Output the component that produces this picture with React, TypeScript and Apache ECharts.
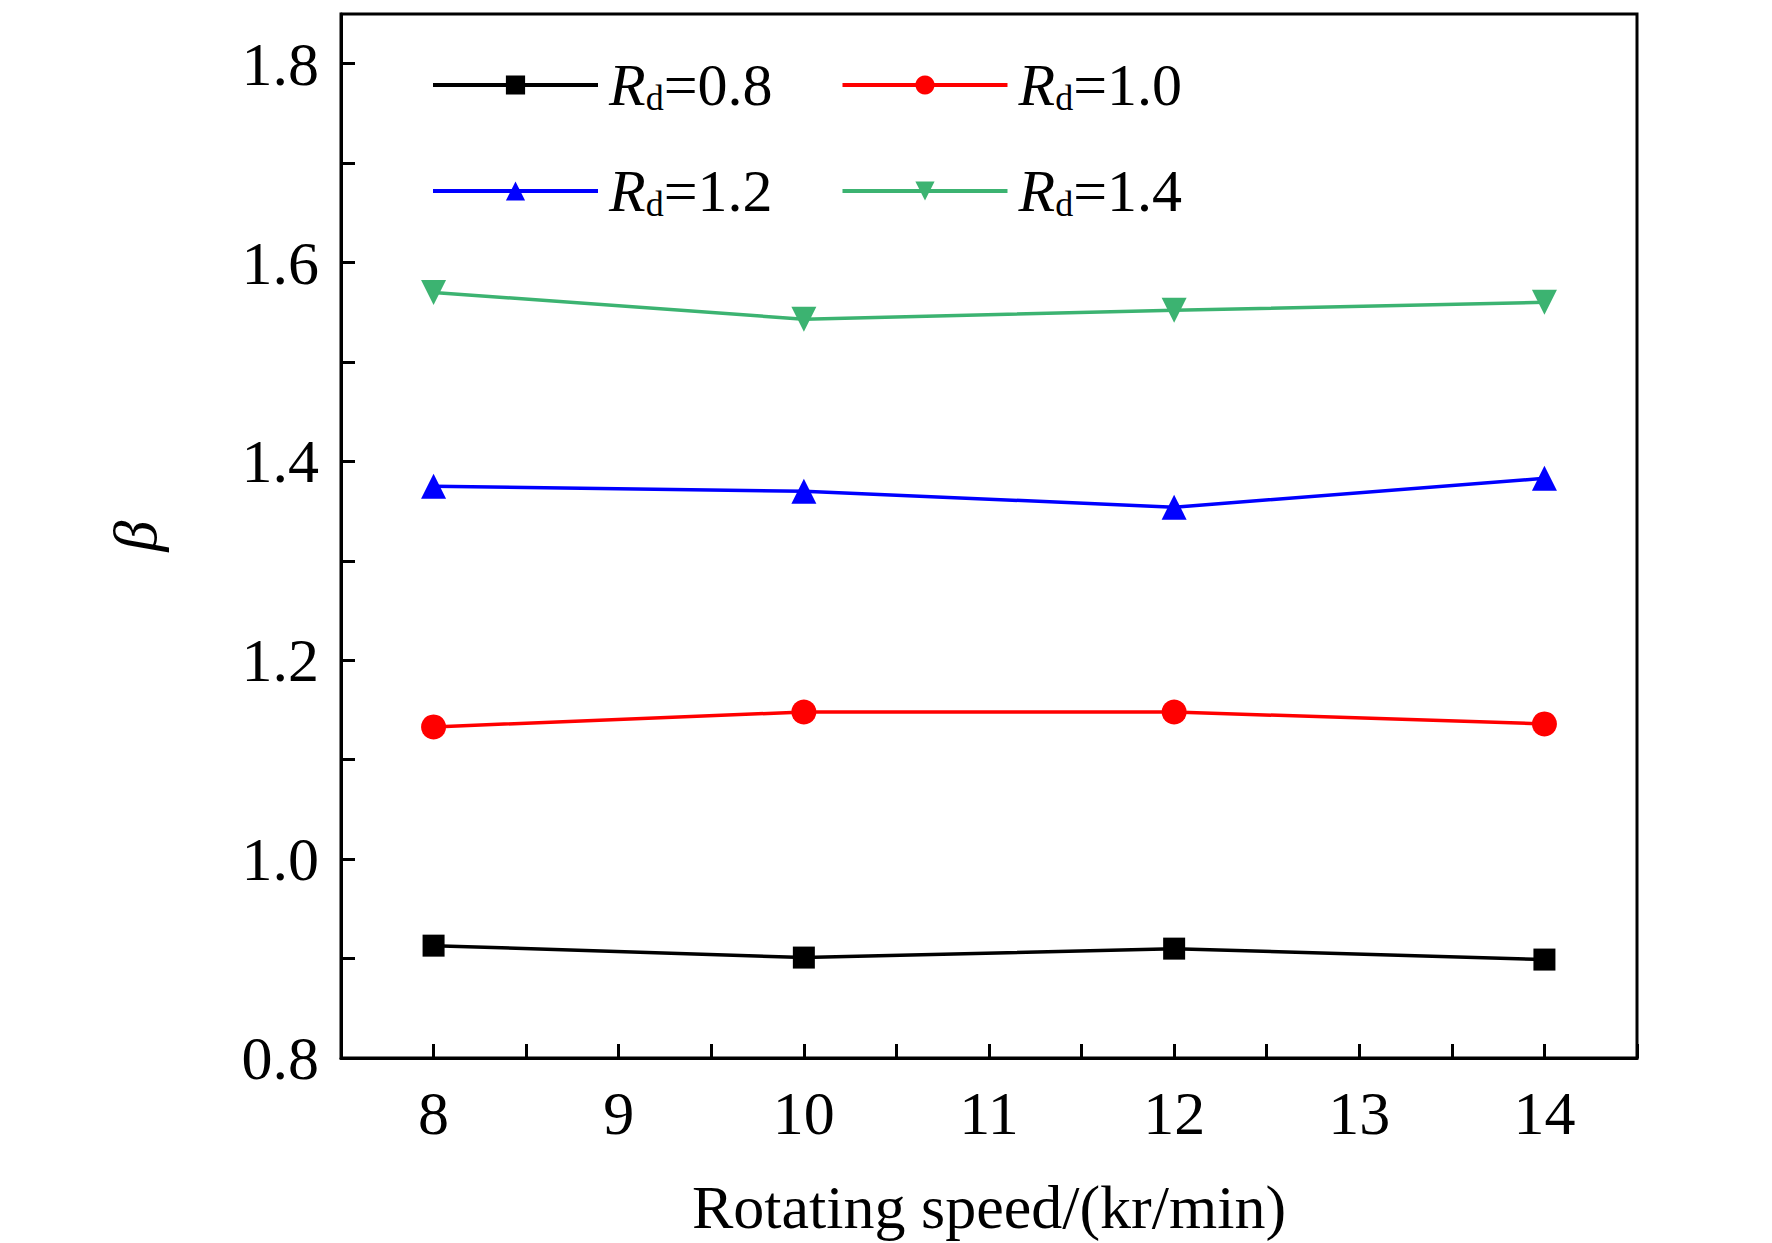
import { useEffect, useRef } from 'react'
import * as echarts from 'echarts'

const speeds = [8, 10, 12, 14]
const rd08 = [0.913, 0.901, 0.91, 0.899]
const rd10 = [1.133, 1.148, 1.148, 1.136]
const rd12 = [1.375, 1.37, 1.354, 1.383]
const rd14 = [1.57, 1.543, 1.552, 1.56]
const names = ['0.8', '1.0', '1.2', '1.4']

const font = 'Liberation Serif'

export default function App() {
  const ref = useRef<HTMLDivElement>(null)

  useEffect(() => {
    document.body.style.margin = '0'
    if (!ref.current) return
    const chart = echarts.init(ref.current, undefined, { renderer: 'svg' })

    const mk = (name: string, vals: number[], color: string, symbol: string, size: number, rotate = 0) => ({
      name,
      type: 'line',
      data: speeds.map((s, i) => [s, vals[i]]),
      symbol,
      symbolSize: size,
      symbolRotate: rotate,
      lineStyle: { color, width: 3.5 },
      itemStyle: { color },
    })

    const rich = {
      r: { fontFamily: font, fontStyle: 'italic', fontSize: 60, color: '#000' },
      d: { fontFamily: font, fontSize: 36, color: '#000', verticalAlign: 'bottom', padding: [26, 0, 0, 0] },
      v: { fontFamily: font, fontSize: 60, color: '#000' },
    }
    const legendBase = {
      itemWidth: 165,
      itemHeight: 24,
      itemGap: 68,
      orient: 'horizontal',
      lineStyle: { width: 4 },
      formatter: (n: string) => `{r|R}{d|d}{v|=${n}}`,
      textStyle: { rich, padding: [0, 0, 0, 6] },
    }

    chart.setOption({
      animation: false,
      backgroundColor: '#fff',
      grid: {
        left: 341, right: 135, top: 14, bottom: 171,
        show: true, borderColor: '#000', borderWidth: 3,
      },
      legend: [
        { ...legendBase, left: 426, top: 50, data: [names[0], names[1]] },
        { ...legendBase, left: 426, top: 156, data: [names[2], names[3]] },
      ],
      xAxis: {
        type: 'value',
        min: 7.5,
        max: 14.5,
        interval: 0.5,
        name: 'Rotating speed/(kr/min)',
        nameLocation: 'middle',
        nameGap: 118,
        nameTextStyle: { fontFamily: font, fontSize: 62, color: '#000' },
        axisLine: { lineStyle: { color: '#000', width: 3 } },
        axisTick: { inside: true, length: 14, lineStyle: { color: '#000', width: 3 } },
        axisLabel: {
          margin: 24,
          fontFamily: font, fontSize: 62, color: '#000',
          formatter: (v: number) => (Number.isInteger(v) && v >= 8 && v <= 14 ? String(v) : ''),
        },
        splitLine: { show: false },
      },
      yAxis: {
        type: 'value',
        min: 0.8,
        max: 1.85,
        interval: 0.1,
        name: 'β',
        nameLocation: 'middle',
        nameGap: 175,
        nameRotate: 90,
        nameTextStyle: { fontFamily: font, fontStyle: 'italic', fontSize: 62, color: '#000' },
        axisLine: { lineStyle: { color: '#000', width: 3 } },
        axisTick: { inside: true, length: 14, lineStyle: { color: '#000', width: 3 } },
        axisLabel: {
          margin: 22,
          fontFamily: font, fontSize: 62, color: '#000',
          showMaxLabel: false,
          formatter: (v: number) => {
            const k = Math.round(v * 10)
            return k % 2 === 0 && Math.abs(v * 10 - k) < 1e-6 ? v.toFixed(1) : ''
          },
        },
        splitLine: { show: false },
      },
      series: [
        mk(names[0], rd08, '#000000', 'rect', 22),
        mk(names[1], rd10, '#ff0000', 'circle', 25),
        mk(names[2], rd12, '#0000ff', 'triangle', 25),
        mk(names[3], rd14, '#3cb371', 'triangle', 25, 180),
      ],
    })

    return () => chart.dispose()
  }, [])

  return <div ref={ref} style={{ width: 1772, height: 1243 }} />
}
